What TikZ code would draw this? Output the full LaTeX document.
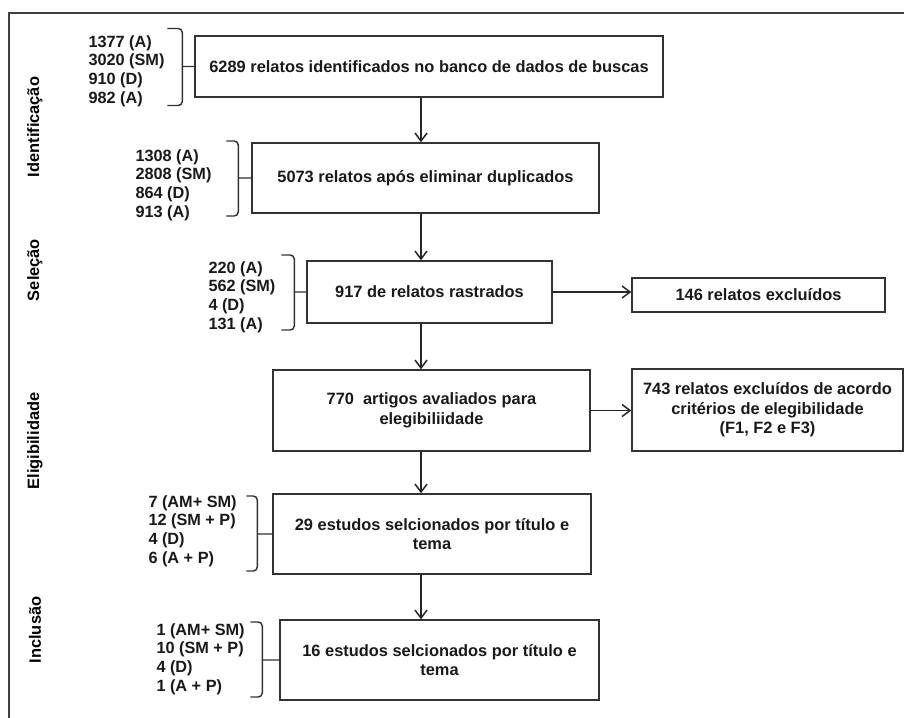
\documentclass[tikz,border=0pt]{standalone}
\usepackage{fontspec}
\setmainfont{Liberation Sans}
\usetikzlibrary{arrows.meta}

\tikzset{every picture/.style={line width=0.75pt}}
\tikzset{
  box/.style={draw=black!80, line width=1.1pt, align=center, inner sep=2pt, text=black!90, font=\bfseries\fontsize{12.3}{14.6}\selectfont},
  counts/.style={anchor=west, align=left, inner sep=0pt, text=black!90, font=\bfseries\fontsize{12.2}{13.9}\selectfont},
  phase/.style={rotate=90, inner sep=0pt, text=black, font=\bfseries\fontsize{12.3}{14}\selectfont},
  brk/.style={draw=black!80, line width=1.1pt, rounded corners=3pt},
  arr/.style={draw=black!85, line width=1.1pt, -{Straight Barb[length=6pt,width=9pt]}}
}

\begin{document}
\begin{tikzpicture}[x=0.75pt,y=0.75pt,yscale=-1,xscale=1]
\useasboundingbox (0,0) rectangle (904,718);

% frame
\draw [draw=black!75, line width=1.2pt] (9,718) -- (9,13) -- (904,13) ;

% phases
\node [phase] (idphase) at (35,127) {Identificação};
\node [phase] (selphase) at (35,270) {Seleção};
\node [phase] (elphase) at (35,441) {Eligibilidade};
\node [phase] (incphase) at (35,630) {Inclusão};

% main column
\node [box, minimum width=351pt, minimum height=45.75pt] (ident) at (429,66.5) {6289 relatos identificados no banco de dados de buscas};
\node [box, minimum width=260.25pt, minimum height=52.5pt] (dupl) at (425.5,178) {5073 relatos após eliminar duplicados};
\node [box, minimum width=183.75pt, minimum height=46.5pt] (rastr) at (429.5,292) {917 de relatos rastrados};
\node [box, minimum width=237.75pt, minimum height=60.75pt] (elig) at (431.5,410.5) {770~~artigos avaliados para\\elegibiliidade};
\node [box, minimum width=238.5pt, minimum height=60pt] (titA) at (432,534) {29 estudos selcionados por título e\\tema};
\node [box, minimum width=239.25pt, minimum height=60pt] (titB) at (439.5,660) {16 estudos selcionados por título e\\tema};

% exclusions
\node [box, minimum width=189.75pt, minimum height=25.5pt] (excl) at (758.5,295) {146 relatos excluídos};
\node [box, minimum width=203.25pt, minimum height=61.5pt] (exclel) at (767.5,410) {743 relatos excluídos de acordo\\critérios de elegibilidade\\(F1, F2 e F3)};

% counts
\node [counts] (cnt1) at (88,71) {1377 (A)\\3020 (SM)\\910 (D)\\982 (A)};
\node [counts] (cnt2) at (135,185) {1308 (A)\\2808 (SM)\\864 (D)\\913 (A)};
\node [counts] (cnt3) at (208,297) {220 (A)\\562 (SM)\\4 (D)\\131 (A)};
\node [counts] (cnt4) at (148,531) {7 (AM+ SM)\\12 (SM + P)\\4 (D)\\6 (A + P)};
\node [counts] (cnt5) at (156,659) {1 (AM+ SM)\\10 (SM + P)\\4 (D)\\1 (A + P)};

% brackets
\draw [brk] (ident.west) -- ++(-12,0) ++(-15,-38) -- ++(15,0) -- ++(0,77) -- ++(-15,0) ;
\draw [brk] (dupl.west) -- ++(-13,0) ++(-12,-37) -- ++(12,0) -- ++(0,75) -- ++(-12,0) ;
\draw [brk] (rastr.west) -- ++(-12,0) ++(-13,-37) -- ++(13,0) -- ++(0,75) -- ++(-13,0) ;
\draw [brk] (titA.west) -- ++(-15,0) ++(-11,-38) -- ++(11,0) -- ++(0,75) -- ++(-11,0) ;
\draw [brk] (titB.west) -- ++(-17,0) ++(-12,-38) -- ++(12,0) -- ++(0,75) -- ++(-12,0) ;

% arrows
\coordinate (spine) at (421,0);
\draw [arr] (ident.south -| spine) -- (dupl.north -| spine) ;
\draw [arr] (dupl.south -| spine) -- (rastr.north -| spine) ;
\draw [arr] (rastr.south -| spine) -- (elig.north -| spine) ;
\draw [arr] (elig.south -| spine) -- (titA.north -| spine) ;
\draw [arr] (titA.south -| spine) -- (titB.north -| spine) ;
\draw [arr] (rastr.east) -- (rastr.east -| excl.west) ;
\draw [arr] (elig.east) -- (elig.east -| exclel.west) ;

\end{tikzpicture}
\end{document}
